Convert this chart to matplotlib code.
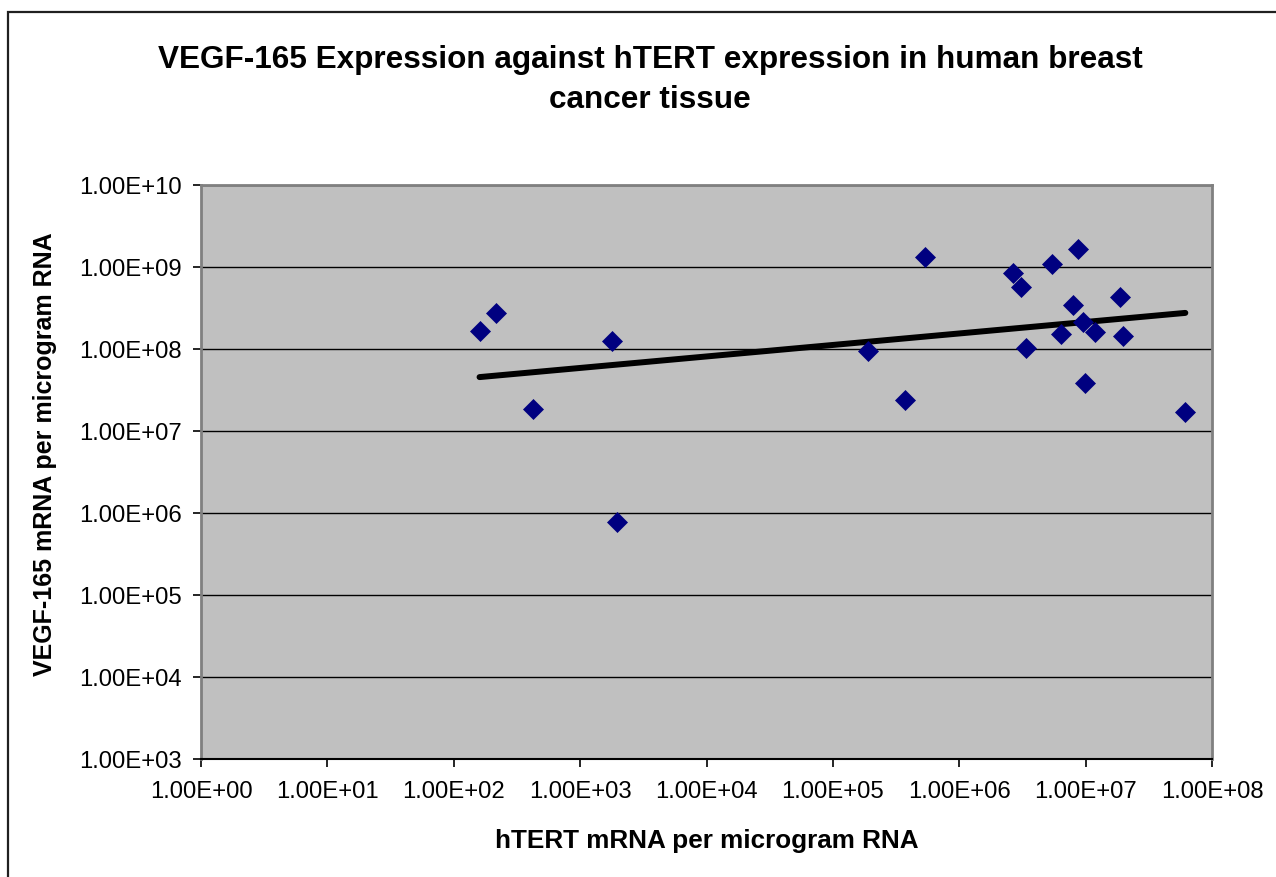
import matplotlib
matplotlib.use('Agg')

import numpy as np
import matplotlib.pyplot as plt
from matplotlib.patches import Rectangle
from matplotlib.ticker import FixedLocator, FuncFormatter, NullLocator

plt.rcParams['font.family'] = ['Liberation Sans', 'DejaVu Sans']

# hTERT vs VEGF-165 (copies per microgram RNA)
htert = [160, 217, 426, 1786, 1958, 1.9e5, 3.72e5, 5.36e5, 2.65e6, 3.06e6,
         3.36e6, 5.39e6, 6.35e6, 8.0e6, 8.76e6, 9.48e6, 9.84e6, 1.19e7,
         1.87e7, 1.98e7, 6.15e7]
vegf = [1.66e8, 2.77e8, 1.87e7, 1.25e8, 7.77e5, 9.46e7, 2.39e7, 1.32e9, 8.38e8,
        5.65e8, 1.03e8, 1.10e9, 1.51e8, 3.44e8, 1.67e9, 2.12e8, 3.85e7, 1.63e8,
        4.34e8, 1.43e8, 1.69e7]

x_ticks = [1e0, 1e1, 1e2, 1e3, 1e4, 1e5, 1e6, 1e7, 1e8]
y_ticks = [1e3, 1e4, 1e5, 1e6, 1e7, 1e8, 1e9, 1e10]

fig = plt.figure(figsize=(12.76, 8.77), dpi=100)
ax = fig.add_axes([201 / 1276, 1 - 759 / 877, 1011 / 1276, 574 / 877])
ax.set_facecolor('#C0C0C0')

ax.set_xscale('log')
ax.set_yscale('log')
ax.set_xlim(x_ticks[0], x_ticks[-1])
ax.set_ylim(y_ticks[0], y_ticks[-1])

ax.yaxis.set_major_locator(FixedLocator(y_ticks))
ax.xaxis.set_major_locator(FixedLocator(x_ticks))
ax.xaxis.set_minor_locator(NullLocator())
ax.yaxis.set_minor_locator(NullLocator())
fmt = FuncFormatter(lambda v, p: f"{v:.2E}")
ax.xaxis.set_major_formatter(fmt)
ax.yaxis.set_major_formatter(fmt)
ax.tick_params(direction='out', length=6, width=1.2, labelsize=17.2)
ax.tick_params(axis='x', pad=10)
ax.tick_params(axis='y', pad=8)

ax.grid(True, axis='y', color='black', linewidth=1)
ax.set_axisbelow(True)
for side in ['top', 'right', 'left']:
    ax.spines[side].set_color('#808080')
    ax.spines[side].set_linewidth(2)
ax.spines['bottom'].set_color('black')
ax.spines['bottom'].set_linewidth(1.5)

# power trendline (linear fit in log-log)
lx = np.log10(htert)
ly = np.log10(vegf)
k, b = np.polyfit(lx, ly, 1)
tx = np.array([min(htert), max(htert)])
ax.plot(tx, 10 ** (b + k * np.log10(tx)), color='black', linewidth=4.3,
        solid_capstyle='round', zorder=3)

ax.plot(htert, vegf, linestyle='none', marker='D', markersize=10,
        color='#000080', markeredgewidth=0.5, zorder=4, clip_on=False)

fig.text(650 / 1276, 1 - 80 / 877,
         'VEGF-165 Expression against hTERT expression in human breast\ncancer tissue',
         ha='center', va='center', fontsize=22.7, fontweight='bold', linespacing=1.42)
fig.text(707 / 1276, 1 - 841 / 877, 'hTERT mRNA per microgram RNA',
         ha='center', va='center', fontsize=18.8, fontweight='bold')
fig.text(45 / 1276, 1 - 454 / 877, 'VEGF-165 mRNA per microgram RNA',
         ha='center', va='center', rotation=90, fontsize=18.0, fontweight='bold')

# outer chart border (runs off the right and bottom edges)
fig.patches.append(Rectangle((8 / 1276, -0.05), 1.1, 1 - 12 / 877 + 0.05,
                             transform=fig.transFigure, fill=False,
                             edgecolor='#202020', linewidth=1.6))

fig.savefig('out.png', dpi=100)
